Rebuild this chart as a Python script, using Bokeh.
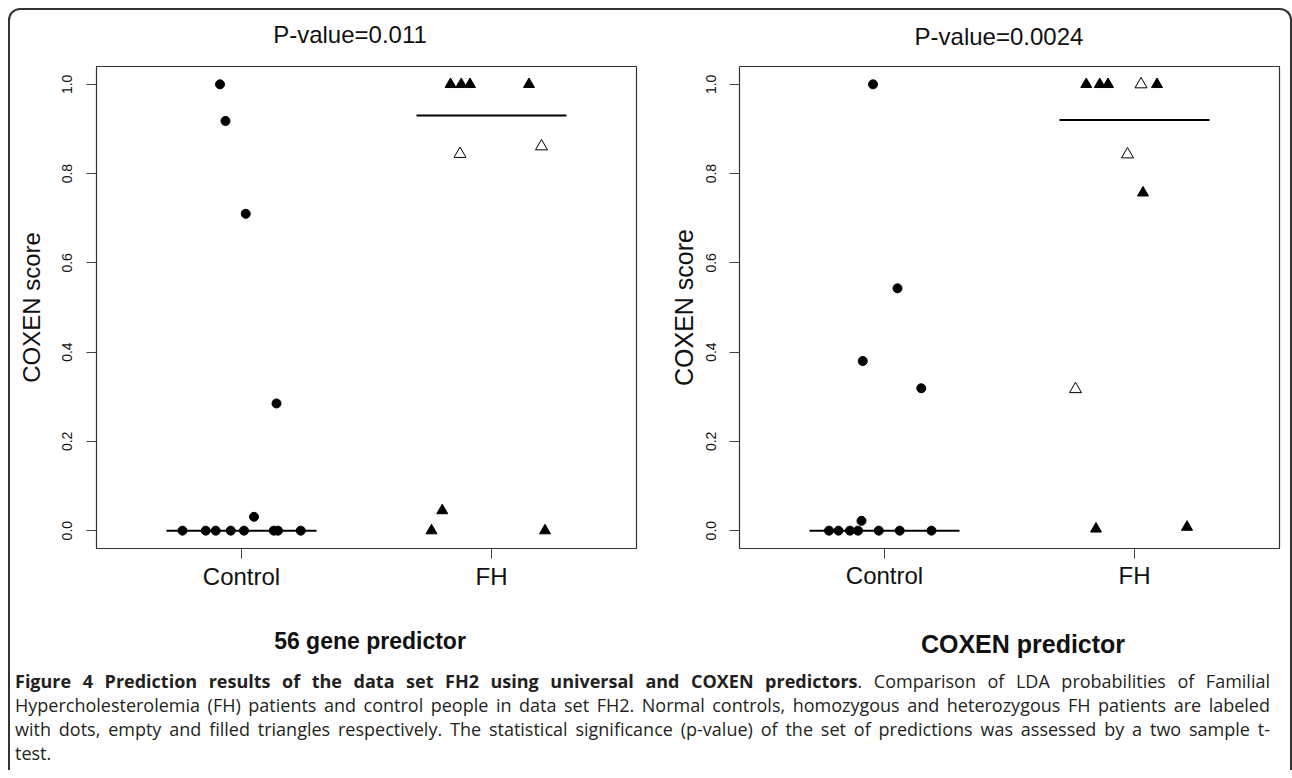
from bokeh.plotting import figure
from bokeh.models import Range1d, FixedTicker, PrintfTickFormatter, Div
from bokeh.layouts import row, column
from bokeh.embed import file_html
from bokeh.resources import INLINE

# ---------------- data ----------------
groups = ["Control", "FH"]
group_pos = [1, 2]

# Left panel (56 gene predictor)
left_title = "P-value=0.011"
left_subtitle = "56 gene predictor"
left_ctrl_x = [0.914, 0.936, 1.017, 1.140, 1.050, 0.764, 0.857, 0.897, 0.957, 1.010, 1.129, 1.146, 1.237]
left_ctrl_y = [1.0, 0.918, 0.710, 0.285, 0.031, 0.0, 0.0, 0.0, 0.0, 0.0, 0.0, 0.0, 0.0]
left_het_x = [1.836, 1.879, 1.914, 2.150, 1.760, 1.803, 2.214]      # heterozygous FH (filled)
left_het_y = [1.0, 1.0, 1.0, 1.0, 0.0, 0.045, 0.0]
left_hom_x = [1.874, 2.200]                                          # homozygous FH (empty)
left_hom_y = [0.844, 0.861]
left_level = [0.0, 0.93]

# Right panel (COXEN predictor)
right_title = "P-value=0.0024"
right_subtitle = "COXEN predictor"
right_ctrl_x = [0.954, 1.052, 0.913, 1.147, 0.908, 0.778, 0.816, 0.862, 0.894, 0.977, 1.061, 1.188]
right_ctrl_y = [1.0, 0.543, 0.380, 0.319, 0.022, 0.0, 0.0, 0.0, 0.0, 0.0, 0.0, 0.0]
right_het_x = [1.807, 1.861, 1.894, 2.090, 2.034, 1.846, 2.210]
right_het_y = [1.0, 1.0, 1.0, 1.0, 0.757, 0.004, 0.008]
right_hom_x = [2.026, 1.972, 1.764]
right_hom_y = [1.0, 0.843, 0.317]
right_level = [0.0, 0.92]

y_ticks = [0.0, 0.2, 0.4, 0.6, 0.8, 1.0]
y_label = "COXEN score"

caption_bold = "Figure 4 Prediction results of the data set FH2 using universal and COXEN predictors"
caption_lines = [
    "<b>" + caption_bold + "</b>. Comparison of LDA probabilities of Familial",
    "Hypercholesterolemia (FH) patients and control people in data set FH2. Normal controls, homozygous and heterozygous FH patients are labeled",
    "with dots, empty and filled triangles respectively. The statistical significance (p-value) of the set of predictions was assessed by a two sample t-",
    "test.",
]

FONT = "Liberation Sans"
FRAME_W, FRAME_H = 540, 485
FIG_H = 540
LEFT_W, RIGHT_W = 651, 629
TITLE_H, SUB_H = 48, 68


def panel(cx, cy, hx, hy, ox, oy, level, width, mbl, mbt, fs_ylab,
          tick_so, ylab_so, xlab_so):
    p = figure(width=width, height=FIG_H,
               x_range=Range1d(0.42, 2.58), y_range=Range1d(-0.04, 1.04),
               output_backend="svg", toolbar_location=None,
               min_border_left=mbl, min_border_right=width - mbl - FRAME_W,
               min_border_top=mbt, min_border_bottom=FIG_H - mbt - FRAME_H)
    p.title.visible = False
    p.grid.visible = False
    p.outline_line_color = "#333333"
    p.outline_line_width = 1.2
    p.background_fill_color = "white"
    p.border_fill_color = "white"

    for ax in (p.xaxis[0], p.yaxis[0]):
        ax.axis_line_color = None
        ax.major_tick_in = 0
        ax.major_tick_out = 10
        ax.major_tick_line_color = "#444444"
        ax.minor_tick_line_color = None
        ax.major_label_text_font = FONT
        ax.major_label_text_color = "#111111"

    p.xaxis.ticker = FixedTicker(ticks=group_pos)
    p.xaxis.major_label_overrides = {g: n for g, n in zip(group_pos, groups)}
    p.xaxis.major_label_text_font_size = "24px"
    p.xaxis.major_label_standoff = xlab_so

    p.yaxis.ticker = FixedTicker(ticks=y_ticks)
    p.yaxis.formatter = PrintfTickFormatter(format="%.1f")
    p.yaxis.major_label_orientation = "vertical"
    p.yaxis.major_label_text_font_size = "14px"
    p.yaxis.major_label_standoff = tick_so
    p.yaxis.axis_label = y_label
    p.yaxis.axis_label_text_font = FONT
    p.yaxis.axis_label_text_font_style = "normal"
    p.yaxis.axis_label_text_font_size = fs_ylab
    p.yaxis.axis_label_text_color = "#111111"
    p.yaxis.axis_label_standoff = ylab_so

    # group summary lines
    p.segment(x0=[g - 0.3 for g in group_pos], x1=[g + 0.3 for g in group_pos],
              y0=level, y1=level, line_color="black", line_width=2)

    p.scatter(cx, cy, marker="circle", size=9, fill_color="black", line_color="black")
    p.scatter(hx, hy, marker="triangle", size=11, fill_color="black", line_color="black")
    p.scatter(ox, oy, marker="triangle", size=12, fill_color="white", line_color="black",
              line_width=1)
    return p


def text_div(text, width, height, cx, cy, size, bold):
    box, lh = 300, 30
    html = ('<div style="margin-left:%.1fpx;width:%dpx;text-align:center;white-space:nowrap;'
            'padding-top:%.1fpx;line-height:%dpx;font-family:\'Liberation Sans\';font-size:%s;'
            'font-weight:%s;color:#111111;">%s</div>'
            % (cx - box / 2, box, cy - lh / 2, lh, size, "bold" if bold else "normal", text))
    return Div(text=html, width=width, height=height, margin=(0, 0, 0, 0))


left = panel(left_ctrl_x, left_ctrl_y, left_het_x, left_het_y, left_hom_x, left_hom_y,
             left_level, width=LEFT_W, mbl=86, mbt=5, fs_ylab="24px",
             tick_so=14, ylab_so=15, xlab_so=4)
right = panel(right_ctrl_x, right_ctrl_y, right_het_x, right_het_y, right_hom_x, right_hom_y,
              right_level, width=RIGHT_W, mbl=78, mbt=8, fs_ylab="25px",
              tick_so=13, ylab_so=6, xlab_so=3)

titles = row(text_div(left_title, LEFT_W, TITLE_H, 340, 25, "24px", False),
             text_div(right_title, RIGHT_W, TITLE_H, 338, 26.7, "24px", False))
subtitles = row(text_div(left_subtitle, LEFT_W, SUB_H, 360, 43, "23px", True),
                text_div(right_subtitle, RIGHT_W, SUB_H, 362, 46, "25px", True))

inner = "".join(
    '<div style="text-align:justify;text-align-last:justify;">%s</div>' % l for l in caption_lines[:-1]
) + '<div style="text-align:left;">%s</div>' % caption_lines[-1]
html = ('<div style="font-family:\'Open Sans\';font-size:18px;line-height:24px;color:#231f20;'
        'width:1260px;padding-left:5px;padding-top:3px;">' + inner + '</div>')
caption = Div(text=html, width=1280, height=104, margin=(0, 0, 0, 0))

layout = column(titles, row(left, right), subtitles, caption,
                styles={"border": "2px solid #333333", "border-bottom": "none",
                        "border-radius": "12px 12px 0 0", "background-color": "white",
                        "margin": "8px 0 0 8px"})

open("out.html", "w").write(file_html(layout, INLINE))
